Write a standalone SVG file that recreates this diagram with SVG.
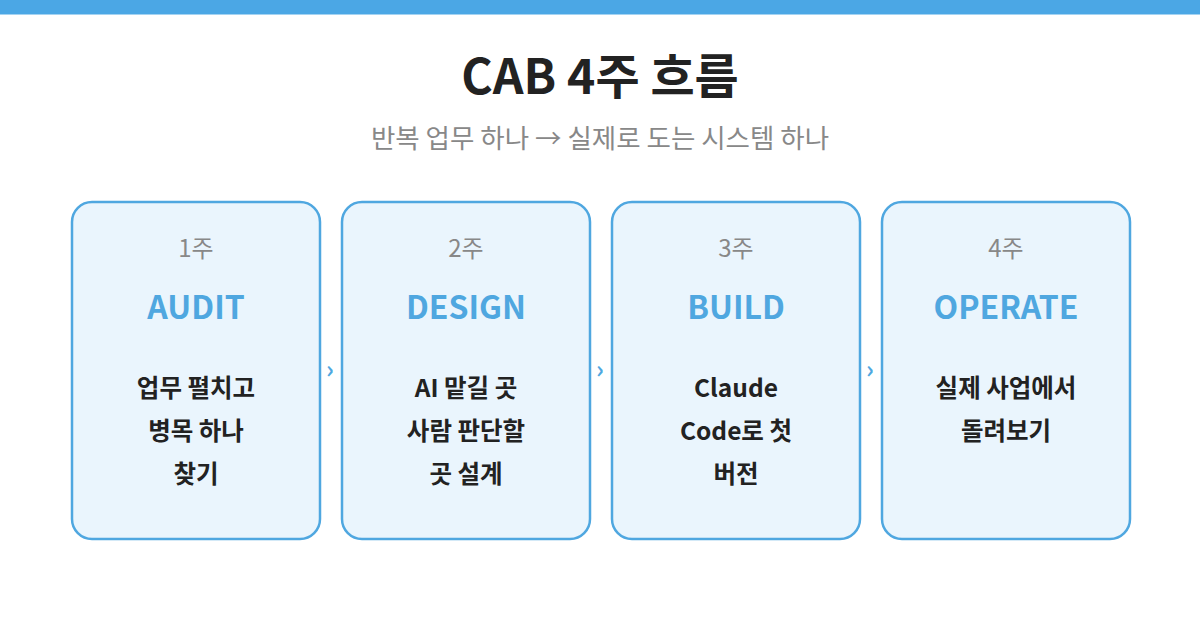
<svg xmlns="http://www.w3.org/2000/svg" width="1200" height="620" viewBox="0 0 1200 620">
<style>
text{font-family:"Noto Sans CJK KR","Noto Sans",sans-serif;text-anchor:middle}
.card{fill:#eaf5fd;stroke:#4fa7e0;stroke-width:2.5}
.wk{font-size:24px;fill:#888888}
.nm{font-size:32px;font-weight:700;fill:#4fa7e0}
.bd{font-size:24.5px;font-weight:700;fill:#222222}
.ch{font-size:24px;font-weight:700;fill:#4fa7e0}
</style>
<rect x="0" y="0" width="1200" height="620" fill="#ffffff"/>
<rect x="0" y="0" width="1200" height="14.5" fill="#4ba7e5"/>
<text x="600" y="94" font-size="48" font-weight="700" fill="#222222">CAB 4주 흐름</text>
<text x="600" y="148" font-size="26.5" fill="#888888">반복 업무 하나 → 실제로 도는 시스템 하나</text>
<g id="connectors">
<text class="ch" x="330" y="378">›</text>
<text class="ch" x="600" y="378">›</text>
<text class="ch" x="870" y="378">›</text>
</g>
<g id="week1">
<rect class="card" x="72" y="202" width="248" height="337" rx="20"/>
<text class="wk" x="196" y="257">1주</text>
<text class="nm" x="196" y="319">AUDIT</text>
<text class="bd" x="196" y="397">업무 펼치고</text>
<text class="bd" x="196" y="440">병목 하나</text>
<text class="bd" x="196" y="483">찾기</text>
</g>
<g id="week2">
<rect class="card" x="342" y="202" width="248" height="337" rx="20"/>
<text class="wk" x="466" y="257">2주</text>
<text class="nm" x="466" y="319">DESIGN</text>
<text class="bd" x="466" y="397">AI 맡길 곳</text>
<text class="bd" x="466" y="440">사람 판단할</text>
<text class="bd" x="466" y="483">곳 설계</text>
</g>
<g id="week3">
<rect class="card" x="612" y="202" width="248" height="337" rx="20"/>
<text class="wk" x="736" y="257">3주</text>
<text class="nm" x="736" y="319">BUILD</text>
<text class="bd" x="736" y="397">Claude</text>
<text class="bd" x="736" y="440">Code로 첫</text>
<text class="bd" x="736" y="483">버전</text>
</g>
<g id="week4">
<rect class="card" x="882" y="202" width="248" height="337" rx="20"/>
<text class="wk" x="1006" y="257">4주</text>
<text class="nm" x="1006" y="319">OPERATE</text>
<text class="bd" x="1006" y="397">실제 사업에서</text>
<text class="bd" x="1006" y="440">돌려보기</text>
</g>
</svg>
